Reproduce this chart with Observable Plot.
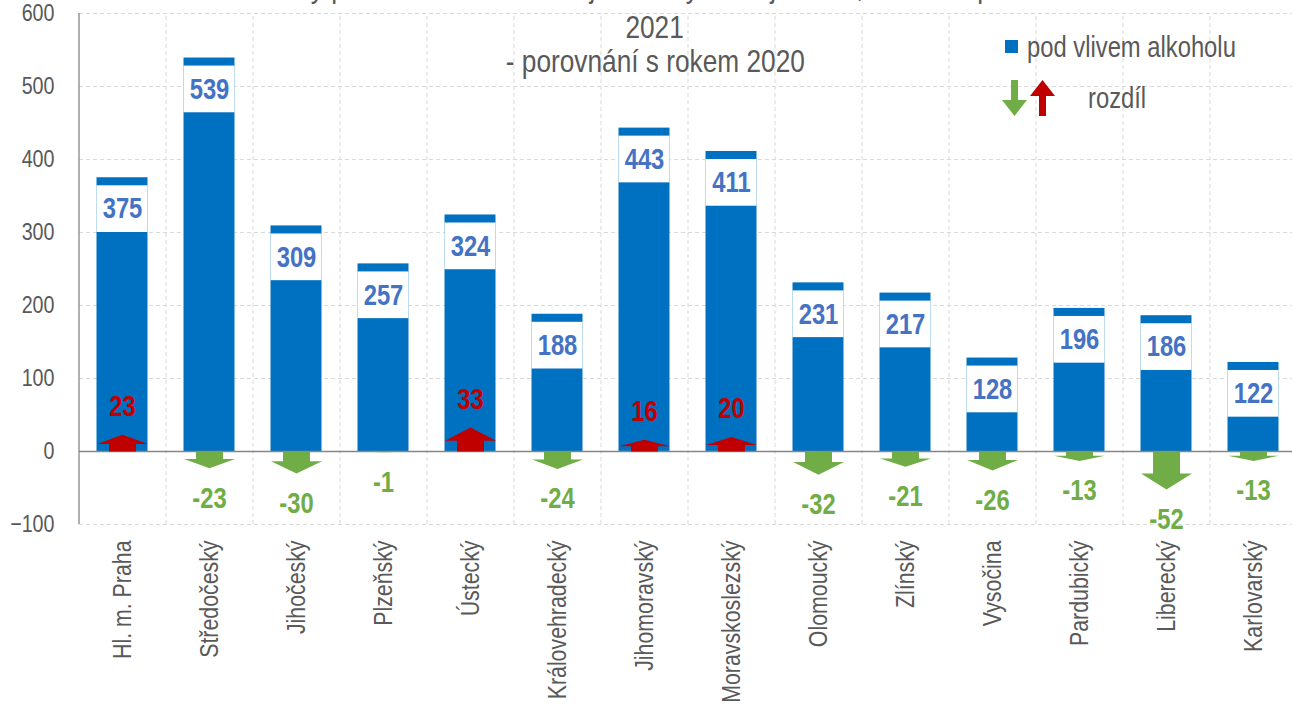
<!DOCTYPE html>
<html>
<head>
<meta charset="utf-8">
<script src="https://cdn.jsdelivr.net/npm/d3@7"></script>
<script src="https://cdn.jsdelivr.net/npm/@observablehq/plot@0.6"></script>
<style>
  html, body { margin: 0; padding: 0; background: #fff; overflow: hidden; }
  #wrap { position: relative; width: 1292px; height: 707px; overflow: hidden; font-family: 'Liberation Sans', Arial, sans-serif; }
  .tline { position: absolute; left: 0; width: 1310px; text-align: center; font-size: 32px; line-height: 32px; height: 32px; color: #595959; white-space: nowrap; }
  .tline span, .leg span { display: inline-block; transform: scaleX(0.82); }
  .tline span { transform-origin: 50% 50%; }
  .leg span { transform-origin: 0 50%; }
  .leg { position: absolute; font-size: 29px; line-height: 34px; color: #595959; white-space: nowrap; }
</style>
</head>
<body>
<div id="wrap">
  <div id="chart"></div>
  <div class="tline" style="top:-30px"><span>Nehody pod vlivem alkoholu v jednotlivých krajích ČR, leden až prosinec</span></div>
  <div class="tline" style="top:11px"><span>2021</span></div>
  <div class="tline" style="top:45px"><span>- porovnání s rokem 2020</span></div>
  <div style="position:absolute;left:1005px;top:40px;width:13px;height:13px;background:#0070C0"></div>
  <div class="leg" style="left:1027px;top:30px;"><span>pod vlivem alkoholu</span></div>
  <svg style="position:absolute;left:1002px;top:78px" width="60" height="42">
    <polygon points="9,2 16,2 16,22 25,22 12.5,38 0,22 9,22" fill="#70AD47"/>
    <polygon points="37,38 44,38 44,18 53,18 40.5,2 28,18 37,18" fill="#C00000"/>
  </svg>
  <div class="leg" style="left:1088px;top:81px;"><span>rozdíl</span></div>
</div>
<script>
const regions = ["Hl. m. Praha","Středočeský","Jihočeský","Plzeňský","Ústecký","Královehradecký","Jihomoravský","Moravskoslezský","Olomoucký","Zlínský","Vysočina","Pardubický","Liberecký","Karlovarský"];
const alcohol = [375,539,309,257,324,188,443,411,231,217,128,196,186,122];
const diff = [23,-23,-30,-1,33,-24,16,20,-32,-21,-26,-13,-52,-13];
const yTicks = [-100,0,100,200,300,400,500,600];

const FONT = "'Liberation Sans',Arial,sans-serif";
const BLUE = "#0070C0", LABEL = "#4472C4", GREEN = "#70AD47", RED = "#C00000", GREY = "#595959";

const rows = regions.map((r, i) => ({i, region: r, value: alcohol[i], diff: diff[i]}));
const bw = 0.293;   // half bar width (band units)
const sw = 0.155;   // half shaft width
const arrows = [];
rows.forEach(d => {
  const v = d.diff, s = Math.sign(v) || 1, head = Math.min(22, Math.abs(v) * 0.55);
  const b = v - s * head;
  [[d.i - sw, 0], [d.i - sw, b], [d.i - bw, b], [d.i, v], [d.i + bw, b], [d.i + sw, b], [d.i + sw, 0]]
    .forEach(([x, y]) => arrows.push({i: d.i, x, y, up: v > 0}));
});
const bounds = regions.map((_, i) => i + 0.5);

const chart = Plot.plot({
  width: 1292,
  height: 707,
  marginTop: 13, marginBottom: 183, marginLeft: 79, marginRight: 0,
  style: {fontFamily: FONT, color: GREY, background: "white", overflow: "hidden"},
  x: {domain: [-0.5, regions.length - 0.5], range: [78.5, 1296.5], axis: null},
  y: {domain: [-100, 600], range: [524, 13], axis: null},
  marks: [
    Plot.ruleY(yTicks.filter(t => t !== 0), {stroke: "#D9D9D9", strokeDasharray: "4,3", strokeWidth: 1}),
    Plot.ruleX(bounds, {y1: -100, y2: 600, stroke: "#D9D9D9", strokeDasharray: "4,3", strokeWidth: 1}),
    Plot.rect(rows, {x1: d => d.i - bw, x2: d => d.i + bw, y1: 0, y2: "value", fill: BLUE}),
    Plot.rect(rows, {x1: d => d.i - bw, x2: d => d.i + bw, y1: d => d.value - 75, y2: d => d.value - 11, fill: "white"}),
    Plot.text(rows, {x: "i", y: d => d.value - 43, text: d => String(d.value), fill: LABEL, fontSize: 29, fontWeight: "bold"}),
    Plot.ruleY([0], {stroke: "#868686", strokeWidth: 1.3}),
    Plot.ruleX([-0.5], {y1: -100, y2: 600, stroke: "#868686", strokeWidth: 1.3}),
    Plot.line(arrows, {x: "x", y: "y", z: "i", fill: d => d.up ? RED : GREEN, stroke: "none", curve: "linear"}),
    Plot.text(rows.filter(d => d.diff > 0), {x: "i", y: "diff", dy: -28, text: d => String(d.diff), fill: RED, fontSize: 29, fontWeight: "bold"}),
    Plot.text(rows.filter(d => d.diff < 0), {x: "i", y: "diff", dy: 30, text: d => String(d.diff), fill: GREEN, fontSize: 29, fontWeight: "bold"}),
    Plot.axisY(yTicks, {tickSize: 0, tickPadding: 25, fontSize: 24, fill: GREY, label: null}),
    Plot.axisX(rows.map(d => d.i), {tickSize: 0, tickPadding: 16, tickRotate: -90, tickFormat: i => regions[i], fontSize: 26, fill: GREY, label: null})
  ]
});
document.getElementById("chart").appendChild(chart);
// condense glyphs to mimic the narrow typeface of the original
chart.querySelectorAll("text").forEach(t => {
  const L = t.getComputedTextLength();
  if (L > 0) {
    t.setAttribute("textLength", (L * 0.82).toFixed(2));
    t.setAttribute("lengthAdjust", "spacingAndGlyphs");
  }
});
</script>
</body>
</html>
